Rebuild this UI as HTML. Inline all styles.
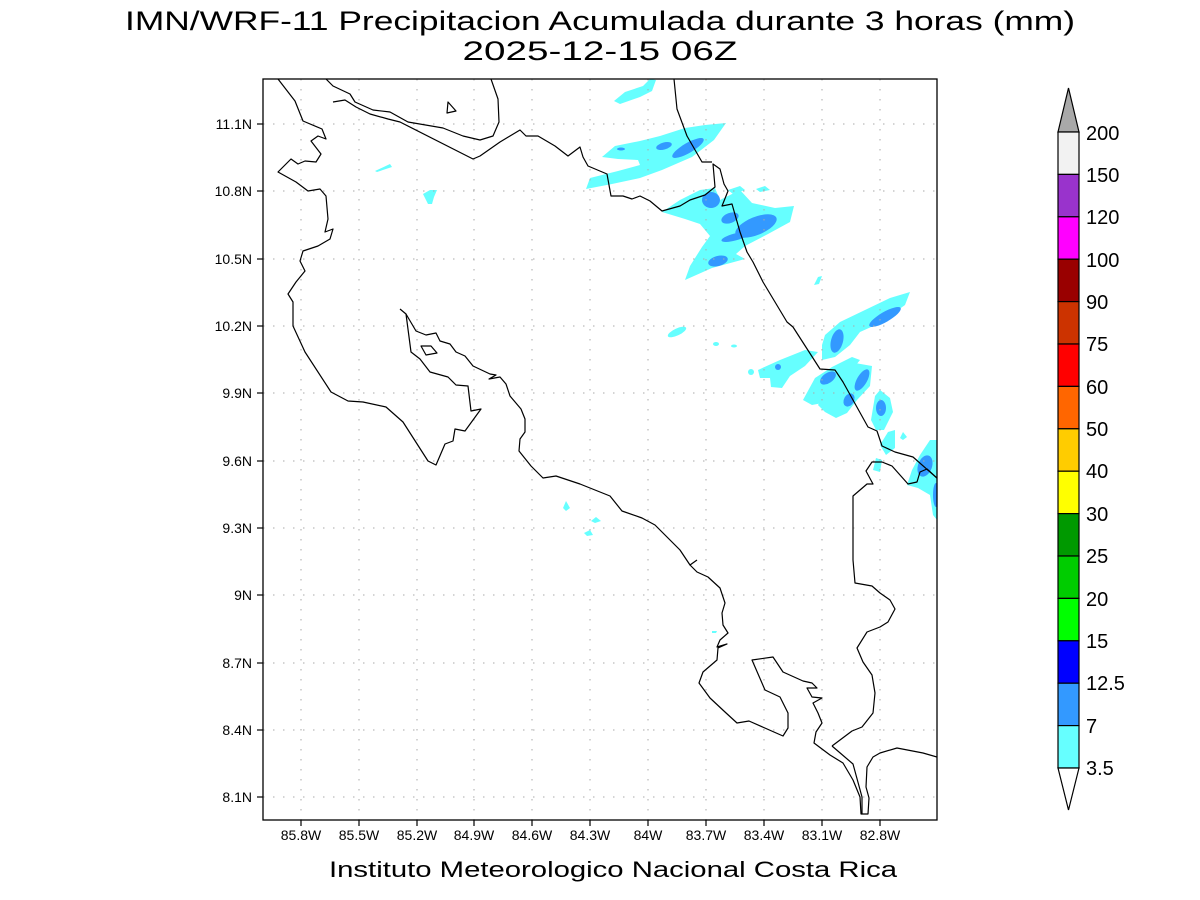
<!DOCTYPE html>
<html><head><meta charset="utf-8"><style>
html,body{margin:0;padding:0;background:#fff;}
svg{display:block;font-family:"Liberation Sans",sans-serif;}
</style></head><body>
<svg width="1200" height="900" viewBox="0 0 1200 900" xmlns="http://www.w3.org/2000/svg">
<rect width="1200" height="900" fill="#fff"/>
<text x="600" y="30" font-size="27" text-anchor="middle" fill="#000" textLength="950" lengthAdjust="spacingAndGlyphs">IMN/WRF-11 Precipitacion Acumulada durante 3 horas (mm)</text>
<text x="600" y="60" font-size="27" text-anchor="middle" fill="#000" textLength="275" lengthAdjust="spacingAndGlyphs">2025-12-15 06Z</text>

<defs><clipPath id="c"><rect x="263" y="79" width="674" height="741"/></clipPath></defs>
<g clip-path="url(#c)">
<!-- precipitation -->
<g fill="#66ffff">
<polygon points="614,101 625,92 643,86 650,79 656,80 652,91 640,97 620,104"/>
<polygon points="602,157 615,146 640,141 660,136 685,128 705,125 726,123 714,140 692,157 662,170 640,178 612,184 586,189 590,178 618,171 640,165 638,160 618,159"/>
<polygon points="662,212 680,200 700,190 715,188 720,200 740,190 752,203 775,208 794,206 790,222 768,234 745,246 736,254 745,259 712,268 685,280 690,266 702,247 710,236 700,224 685,219"/>
<polygon points="728,190 740,186 745,190 733,194"/>
<polygon points="756,189 765,186 770,190 760,192"/>
<polygon points="814,285 818,277 822,276 819,284"/>
<ellipse cx="677" cy="332" rx="10" ry="3.5" transform="rotate(-25 677 332)"/>
<ellipse cx="716" cy="344" rx="3" ry="2"/>
<ellipse cx="734" cy="346" rx="3" ry="1.5"/>
<ellipse cx="751" cy="372" rx="3" ry="3"/>
<polygon points="825,335 840,322 865,310 890,298 910,292 905,305 880,323 860,332 850,345 835,357 822,360 822,345"/>
<polygon points="758,370 780,360 805,350 818,352 805,366 790,376 782,388 771,387 770,378 760,378"/>
<polygon points="803,400 815,378 832,367 852,357 860,360 848,375 838,390 828,402 812,405"/>
<polygon points="818,405 830,385 855,363 872,366 870,386 857,400 847,413 836,418 825,412"/>
<polygon points="871,420 875,396 880,390 890,398 893,412 884,430 876,430"/>
<polygon points="880,445 888,432 895,430 895,448 886,455"/>
<polygon points="873,470 876,458 882,460 880,472"/>
<polygon points="900,438 903,432 907,437 903,440"/>
<polygon points="907,485 912,470 920,455 930,440 937,440 937,520 933,515 930,495 918,488"/>
<polygon points="375,171 390,164 392,167 377,172"/>
<polygon points="423,194 430,190 437,190 434,197 432,204 428,204"/>
<polygon points="563,508 566,501 570,508 566,511"/>
<polygon points="591,521 596,517 601,521 595,523"/>
<polygon points="584,533 590,530 593,535 587,536"/>
<polygon points="712,631 717,631 716,633 712,633"/>
</g>
<g fill="#3399ff">
<ellipse cx="688" cy="148" rx="18" ry="5" transform="rotate(-30 688 148)"/>
<ellipse cx="664" cy="146" rx="8" ry="3.5" transform="rotate(-15 664 146)"/>
<ellipse cx="621" cy="149" rx="4" ry="1.5"/>
<ellipse cx="711" cy="200" rx="9" ry="8"/>
<ellipse cx="756" cy="226" rx="22" ry="9" transform="rotate(-22 756 226)"/>
<ellipse cx="730" cy="218" rx="9" ry="5" transform="rotate(-20 730 218)"/>
<ellipse cx="735" cy="237" rx="14" ry="3.5" transform="rotate(-15 735 237)"/>
<ellipse cx="718" cy="261" rx="10" ry="5" transform="rotate(-15 718 261)"/>
<ellipse cx="885" cy="317" rx="18" ry="5" transform="rotate(-30 885 317)"/>
<ellipse cx="837" cy="341" rx="6" ry="12" transform="rotate(15 837 341)"/>
<ellipse cx="778" cy="367" rx="3" ry="3"/>
<ellipse cx="828" cy="378" rx="9" ry="5" transform="rotate(-35 828 378)"/>
<ellipse cx="862" cy="380" rx="5" ry="12" transform="rotate(30 862 380)"/>
<ellipse cx="849" cy="400" rx="5" ry="7" transform="rotate(30 849 400)"/>
<ellipse cx="881" cy="408" rx="5" ry="8"/>
<ellipse cx="925" cy="466" rx="7" ry="11" transform="rotate(20 925 466)"/>
<ellipse cx="936" cy="495" rx="3" ry="12"/>
</g>

<!-- grid -->
<g stroke="#aaa" stroke-width="1" stroke-dasharray="1.5,8.5">
<line x1="301" y1="79" x2="301" y2="820"/><line x1="359" y1="79" x2="359" y2="820"/><line x1="417" y1="79" x2="417" y2="820"/><line x1="474" y1="79" x2="474" y2="820"/><line x1="532" y1="79" x2="532" y2="820"/><line x1="590" y1="79" x2="590" y2="820"/><line x1="648" y1="79" x2="648" y2="820"/><line x1="706" y1="79" x2="706" y2="820"/><line x1="764" y1="79" x2="764" y2="820"/><line x1="822" y1="79" x2="822" y2="820"/><line x1="880" y1="79" x2="880" y2="820"/>
<line x1="263" y1="124" x2="937" y2="124"/><line x1="263" y1="191" x2="937" y2="191"/><line x1="263" y1="259" x2="937" y2="259"/><line x1="263" y1="326" x2="937" y2="326"/><line x1="263" y1="393" x2="937" y2="393"/><line x1="263" y1="461" x2="937" y2="461"/><line x1="263" y1="528" x2="937" y2="528"/><line x1="263" y1="595" x2="937" y2="595"/><line x1="263" y1="663" x2="937" y2="663"/><line x1="263" y1="730" x2="937" y2="730"/><line x1="263" y1="797" x2="937" y2="797"/>
</g>

<!-- coastlines -->
<g fill="none" stroke="#000" stroke-width="1.2" stroke-linejoin="round">
<polyline points="278,79 295,101 303,121 322,129 326,139 318,136 311,141 321,154 316,162 305,161 298,164 291,159 278,172 296,182 308,191 320,189 326,196 328,219 325,232 333,229 330,239 318,246 303,251 300,261 305,271 296,282 288,294 293,302 293,326 305,352 331,392 348,401 363,402 386,407 403,422 428,461 436,465 445,444 453,441 455,429 465,431 481,409 471,411 468,386 456,385 448,377 430,372 420,359 411,352 406,314 400,309"/>
<polyline points="406,314 416,331 426,335 436,333 440,341 450,344 456,352 465,356 473,366 490,374 496,375 489,379 500,377 506,384 510,396 521,409 525,419 525,432 520,439 519,451 531,466 543,478 556,476 580,484 610,496 622,511 642,518 655,525 665,535 680,550 690,565 697,560"/>
<polyline points="690,565 697,572 708,577 720,588 725,603 722,613 723,625 728,633 720,640 717,647 727,644 718,648 717,660 703,672 699,683 710,698 725,712 737,723 749,721 783,736 788,728 788,713 780,697 765,690 752,660 773,657 783,672 803,681 812,683 817,688 807,688 812,697 822,698 813,703 818,713 822,723 816,732 814,743 830,755 843,763 853,780 860,797 861,814 868,814 869,798 866,787 867,767 873,757 880,753 897,748 923,753 937,757"/>
<polyline points="832,746 852,731 862,727 873,713 875,693 872,675 863,662 857,648 867,632 880,627 888,622 895,609 890,600 880,593 872,586 855,583 853,560 853,496 867,484 873,484 866,471 872,462 882,462 892,466 908,484 917,482 920,472 927,469 937,478"/>
<polyline points="832,746 853,764 862,797 862,814"/>
<polygon points="421,346 431,346 437,353 426,355"/>
<polygon points="448,102 456,111 447,113"/>
<polyline points="326,79 333,86 350,94 355,102 373,110 390,112 408,122 443,128 463,136 480,140 493,136 499,122 498,99 491,79"/>
<polyline points="333,102 345,100 356,107 370,114 388,119 400,122 473,159 480,156 500,142 520,130 526,136 538,136 555,146 568,156 580,147 583,157 588,166 607,174 611,196 623,196 632,199 640,196 650,201 662,211 680,206 690,200 705,195 715,187 713,164 720,169 724,184 728,191 722,206 732,204 740,232 747,252 753,262 763,282 787,322 793,327 820,369 835,370 843,382 868,427 877,431 882,446 895,452 913,457 938,479"/>
<polyline points="674,79 677,109 687,136 702,162 712,162"/>
</g>
</g>

<!-- frame and ticks -->
<rect x="263" y="79" width="674" height="741" fill="none" stroke="#000" stroke-width="1.3"/>
<g stroke="#000" stroke-width="1.2">
<line x1="301" y1="820" x2="301" y2="826"/><line x1="359" y1="820" x2="359" y2="826"/><line x1="417" y1="820" x2="417" y2="826"/><line x1="474" y1="820" x2="474" y2="826"/><line x1="532" y1="820" x2="532" y2="826"/><line x1="590" y1="820" x2="590" y2="826"/><line x1="648" y1="820" x2="648" y2="826"/><line x1="706" y1="820" x2="706" y2="826"/><line x1="764" y1="820" x2="764" y2="826"/><line x1="822" y1="820" x2="822" y2="826"/><line x1="880" y1="820" x2="880" y2="826"/>
<line x1="257" y1="124" x2="263" y2="124"/><line x1="257" y1="191" x2="263" y2="191"/><line x1="257" y1="259" x2="263" y2="259"/><line x1="257" y1="326" x2="263" y2="326"/><line x1="257" y1="393" x2="263" y2="393"/><line x1="257" y1="461" x2="263" y2="461"/><line x1="257" y1="528" x2="263" y2="528"/><line x1="257" y1="595" x2="263" y2="595"/><line x1="257" y1="663" x2="263" y2="663"/><line x1="257" y1="730" x2="263" y2="730"/><line x1="257" y1="797" x2="263" y2="797"/>
</g>
<g font-size="14" fill="#000" text-anchor="middle">
<text x="301" y="840">85.8W</text><text x="359" y="840">85.5W</text><text x="417" y="840">85.2W</text><text x="474" y="840">84.9W</text><text x="532" y="840">84.6W</text><text x="590" y="840">84.3W</text><text x="648" y="840">84W</text><text x="706" y="840">83.7W</text><text x="764" y="840">83.4W</text><text x="822" y="840">83.1W</text><text x="880" y="840">82.8W</text>
</g>
<g font-size="14" fill="#000" text-anchor="end">
<text x="252" y="129">11.1N</text><text x="252" y="196">10.8N</text><text x="252" y="264">10.5N</text><text x="252" y="331">10.2N</text><text x="252" y="398">9.9N</text><text x="252" y="466">9.6N</text><text x="252" y="533">9.3N</text><text x="252" y="600">9N</text><text x="252" y="668">8.7N</text><text x="252" y="735">8.4N</text><text x="252" y="802">8.1N</text>
</g>
<text x="613" y="877" font-size="22" text-anchor="middle" fill="#000" textLength="568" lengthAdjust="spacingAndGlyphs">Instituto Meteorologico Nacional Costa Rica</text>

<!-- colorbar -->
<g stroke="#000" stroke-width="1.2">
<polygon points="1058,132 1079,132 1068.5,88" fill="#a9a9a9"/>
<rect x="1058" y="132" width="21" height="42.4" fill="#f2f2f2"/>
<rect x="1058" y="174.4" width="21" height="42.4" fill="#9933cc"/>
<rect x="1058" y="216.8" width="21" height="42.4" fill="#ff00ff"/>
<rect x="1058" y="259.2" width="21" height="42.4" fill="#990000"/>
<rect x="1058" y="301.6" width="21" height="42.4" fill="#cc3300"/>
<rect x="1058" y="344" width="21" height="42.4" fill="#ff0000"/>
<rect x="1058" y="386.4" width="21" height="42.4" fill="#ff6600"/>
<rect x="1058" y="428.8" width="21" height="42.4" fill="#ffcc00"/>
<rect x="1058" y="471.2" width="21" height="42.4" fill="#ffff00"/>
<rect x="1058" y="513.6" width="21" height="42.4" fill="#009900"/>
<rect x="1058" y="556" width="21" height="42.4" fill="#00cc00"/>
<rect x="1058" y="598.4" width="21" height="42.4" fill="#00ff00"/>
<rect x="1058" y="640.8" width="21" height="42.4" fill="#0000ff"/>
<rect x="1058" y="683.2" width="21" height="42.4" fill="#3399ff"/>
<rect x="1058" y="725.6" width="21" height="42.4" fill="#66ffff"/>
<polygon points="1058,768 1079,768 1068.5,810" fill="#fff"/>
</g>
<g font-size="20" fill="#000">
<text x="1086" y="140">200</text><text x="1086" y="182">150</text><text x="1086" y="224">120</text><text x="1086" y="267">100</text><text x="1086" y="309">90</text><text x="1086" y="351">75</text><text x="1086" y="394">60</text><text x="1086" y="436">50</text><text x="1086" y="478">40</text><text x="1086" y="521">30</text><text x="1086" y="563">25</text><text x="1086" y="606">20</text><text x="1086" y="648">15</text><text x="1086" y="690">12.5</text><text x="1086" y="733">7</text><text x="1086" y="775">3.5</text>
</g>
</svg>
</body></html>
